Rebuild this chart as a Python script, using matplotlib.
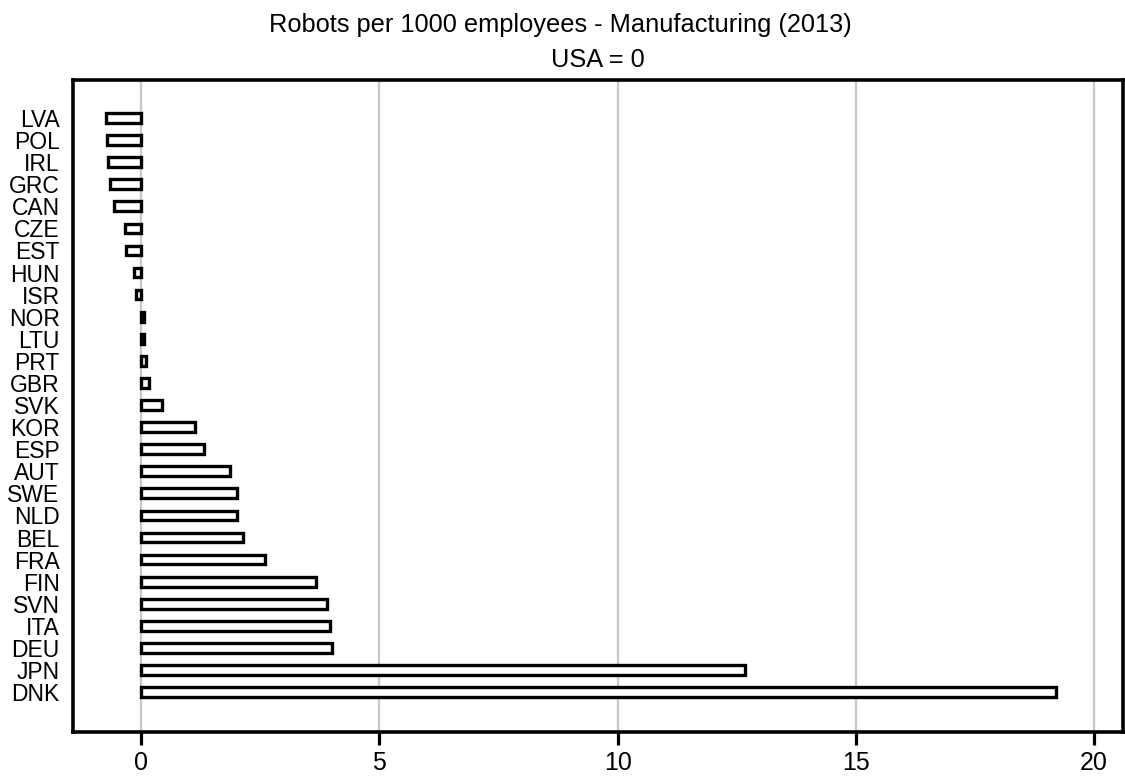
import matplotlib.pyplot as plt

# Robots per 1000 manufacturing employees, 2013, relative to USA
countries = ['LVA', 'POL', 'IRL', 'GRC', 'CAN', 'CZE', 'EST', 'HUN', 'ISR',
             'NOR', 'LTU', 'PRT', 'GBR', 'SVK', 'KOR', 'ESP', 'AUT', 'SWE',
             'NLD', 'BEL', 'FRA', 'FIN', 'SVN', 'ITA', 'DEU', 'JPN', 'DNK']
robots_vs_usa = [-0.75, -0.71, -0.70, -0.66, -0.57, -0.35, -0.31, -0.15, -0.12,
                 0.05, 0.05, 0.11, 0.17, 0.43, 1.12, 1.31, 1.86, 2.01,
                 2.02, 2.13, 2.59, 3.67, 3.90, 3.97, 4.01, 12.68, 19.21]
xticks = [0, 5, 10, 15, 20]

plt.rcParams['font.family'] = ['Liberation Sans', 'DejaVu Sans']

fig = plt.figure(figsize=(11.25, 7.79), dpi=100)
ax = fig.add_axes([0.0653, 0.0603, 0.9329, 0.837])

pos = list(range(len(countries)))
ax.barh(pos, robots_vs_usa, height=0.44, color='white',
        edgecolor='black', linewidth=2.4, zorder=3)

ax.set_yticks(pos)
ax.set_yticklabels(countries, fontsize=16.5)
ax.set_ylim(len(countries) - 1 + 1.81, -1.72)
ax.tick_params(axis='y', length=0, pad=10)

ax.set_xticks(xticks)
ax.set_xticklabels([str(t) for t in xticks], fontsize=18)
ax.set_xlim(-1.423, 20.61)
ax.tick_params(axis='x', length=9, width=2.3, pad=5)

ax.grid(axis='x', color='#c8c8c8', linewidth=1.6, zorder=0)
ax.set_axisbelow(True)
for s in ax.spines.values():
    s.set_linewidth(2.6)
    s.set_color('black')
    s.set_zorder(5)

fig.text(560 / 1125, 1 - 25 / 779, 'Robots per 1000 employees - Manufacturing (2013)',
         ha='center', va='center', fontsize=18.3)
fig.text(0.0653 + 0.9329 / 2, 1 - 60 / 779, 'USA = 0',
         ha='center', va='center', fontsize=18.3)

fig.savefig('out.png', dpi=100)
